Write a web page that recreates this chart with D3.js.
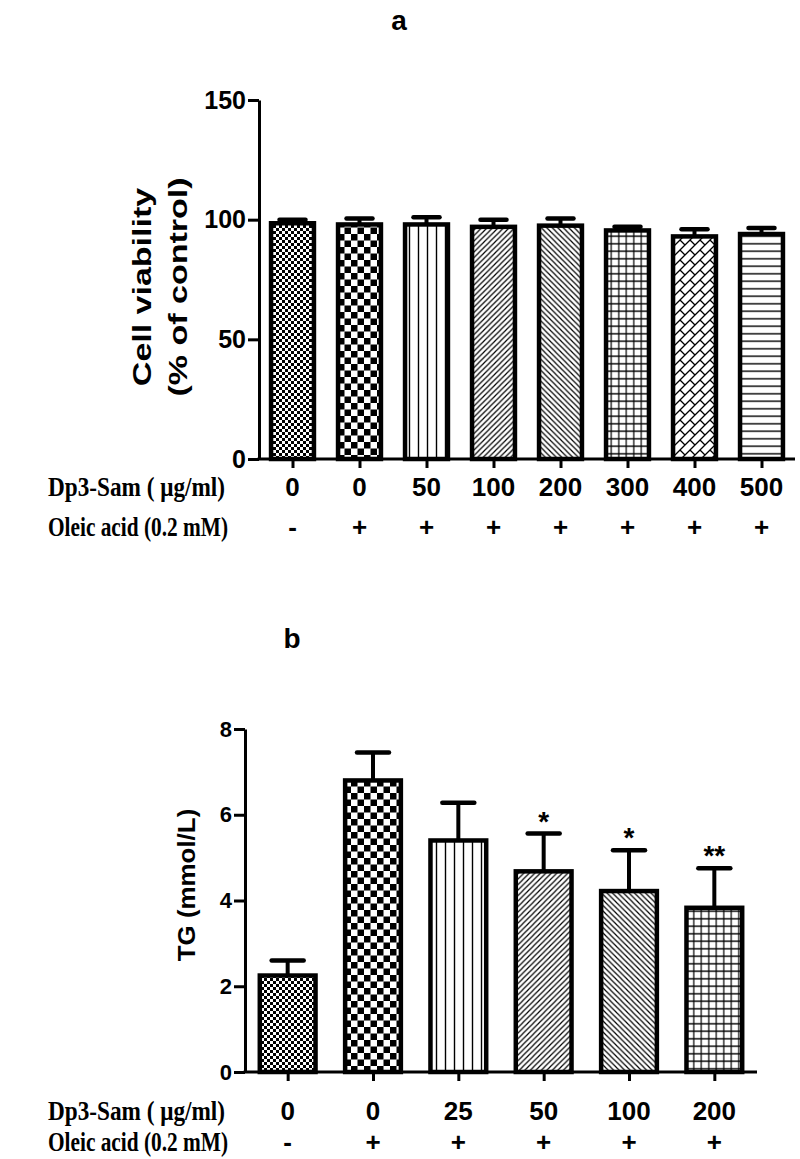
<!DOCTYPE html>
<html>
<head>
<meta charset="utf-8">
<script src="https://cdn.jsdelivr.net/npm/d3@7"></script>
<style>
  body { margin: 0; background: #fff; }
  svg { display: block; }
  .tick text { font-family: "Liberation Sans", Arial, sans-serif; font-weight: bold; }
</style>
</head>
<body>
<svg id="chart" width="800" height="1159"></svg>
<script>
// ---------- DATA ----------
const doseA = ["0", "0", "50", "100", "200", "300", "400", "500"];
const oleicA = ["-", "+", "+", "+", "+", "+", "+", "+"];
const viability = [98.5, 98, 98, 97, 97.5, 95.5, 93, 94];
const viabilityErr = [1.5, 2.5, 3, 3, 3, 1.5, 3, 2.5];
const ticksA = [0, 50, 100, 150];

const doseB = ["0", "0", "25", "50", "100", "200"];
const oleicB = ["-", "+", "+", "+", "+", "+"];
const tg = [2.25, 6.8, 5.4, 4.68, 4.22, 3.83];
const tgErr = [0.35, 0.65, 0.88, 0.88, 0.95, 0.92];
const sigB = ["", "", "", "*", "*", "**"];
const ticksB = [0, 2, 4, 6, 8];

const patternIds = ["pFineCheck", "pCheck", "pVert", "pDiagR", "pDiagL", "pGrid", "pBrick", "pHoriz"];

// ---------- SVG + PATTERNS ----------
const svg = d3.select("#chart");
const defs = svg.append("defs");

function pat(id, w, h) {
  const p = defs.append("pattern").attr("id", id).attr("patternUnits", "userSpaceOnUse")
    .attr("width", w).attr("height", h);
  p.append("rect").attr("width", w).attr("height", h).attr("fill", "#fff");
  return p;
}
let p = pat("pFineCheck", 6, 6);
p.append("rect").attr("width", 3).attr("height", 3).attr("fill", "#000");
p.append("rect").attr("x", 3).attr("y", 3).attr("width", 3).attr("height", 3).attr("fill", "#000");
p = pat("pCheck", 13, 13);
p.append("rect").attr("width", 6.5).attr("height", 6.5).attr("fill", "#000");
p.append("rect").attr("x", 6.5).attr("y", 6.5).attr("width", 6.5).attr("height", 6.5).attr("fill", "#000");
p = pat("pVert", 9, 10);
p.append("line").attr("x1", 4.5).attr("x2", 4.5).attr("y1", 0).attr("y2", 10).attr("stroke", "#000").attr("stroke-width", 1.4);
p = pat("pDiagR", 5.5, 5.5);
p.append("path").attr("d", "M0,5.5 L5.5,0 M-1,1 L1,-1 M4.5,6.5 L6.5,4.5").attr("stroke", "#000").attr("stroke-width", 1.2);
p = pat("pDiagL", 5.5, 5.5);
p.append("path").attr("d", "M0,0 L5.5,5.5 M-1,4.5 L1,6.5 M4.5,-1 L6.5,1").attr("stroke", "#000").attr("stroke-width", 1.2);
p = pat("pGrid", 7.5, 7.5);
p.append("path").attr("d", "M3.75,0 V7.5 M0,3.75 H7.5").attr("stroke", "#000").attr("stroke-width", 1.2);
p = pat("pBrick", 10, 10);
p.append("path").attr("d", "M-1,11 L11,-1 M0,0 L5,5 M-1,1 L1,-1 M9,11 L11,9").attr("stroke", "#000").attr("stroke-width", 1.3).attr("fill", "none");
p = pat("pHoriz", 10, 7.5);
p.append("line").attr("x1", 0).attr("x2", 10).attr("y1", 3.75).attr("y2", 3.75).attr("stroke", "#000").attr("stroke-width", 1.4);

const sans = "'Liberation Sans', Arial, sans-serif";
const serif = "'Liberation Serif', 'Times New Roman', serif";

// ---------- PANEL DRAWER ----------
function panel(cfg) {
  const x = d3.scaleBand().domain(d3.range(cfg.values.length)).range(cfg.xRange)
    .paddingInner(0.3).paddingOuter(0.15);
  const y = d3.scaleLinear().domain(cfg.yDomain).range(cfg.yRange);
  const cx = i => x(i) + x.bandwidth() / 2;
  const g = svg.append("g");

  g.selectAll("rect.bar").data(cfg.values).join("rect")
    .attr("class", "bar")
    .attr("x", (d, i) => x(i) + 2)
    .attr("width", x.bandwidth() - 4)
    .attr("y", d => y(d))
    .attr("height", d => y(0) - y(d))
    .attr("fill", (d, i) => `url(#${patternIds[i]})`)
    .attr("stroke", "#000").attr("stroke-width", 4.5);

  const eg = g.selectAll("g.err").data(cfg.values).join("g").attr("class", "err");
  eg.append("line")
    .attr("x1", (d, i) => cx(i)).attr("x2", (d, i) => cx(i))
    .attr("y1", d => y(d)).attr("y2", (d, i) => y(d + cfg.errors[i]))
    .attr("stroke", "#000").attr("stroke-width", 4);
  eg.append("line")
    .attr("x1", (d, i) => cx(i) - cfg.capW / 2)
    .attr("x2", (d, i) => cx(i) + cfg.capW / 2)
    .attr("y1", (d, i) => y(d + cfg.errors[i])).attr("y2", (d, i) => y(d + cfg.errors[i]))
    .attr("stroke", "#000").attr("stroke-width", 4.5).attr("stroke-linecap", "round");

  if (cfg.sig) {
    g.selectAll("text.sig").data(cfg.values).join("text").attr("class", "sig")
      .attr("x", (d, i) => cx(i))
      .attr("y", (d, i) => y(d + cfg.errors[i]) - 3)
      .attr("text-anchor", "middle")
      .style("font-family", sans).style("font-size", "28px").style("font-weight", "bold")
      .text((d, i) => cfg.sig[i]);
  }

  const ya = g.append("g").attr("transform", `translate(${cfg.xRange[0]},0)`)
    .call(d3.axisLeft(y).tickValues(cfg.ticks).tickSize(11).tickSizeOuter(0).tickPadding(2));
  ya.select(".domain").attr("stroke-width", 3);
  ya.selectAll(".tick line").attr("stroke-width", 3);
  ya.selectAll(".tick text").style("font-size", cfg.tickFont + "px").attr("fill", "#000");

  const xa = g.append("g").attr("transform", `translate(0,${y(0)})`)
    .call(d3.axisBottom(d3.scalePoint().domain(d3.range(cfg.values.length))
      .range([cx(0), cx(cfg.values.length - 1)]))
      .tickSize(9).tickSizeOuter(0).tickFormat(""));
  xa.select(".domain").remove();
  xa.selectAll(".tick line").attr("stroke-width", 3);
  g.append("line").attr("x1", cfg.xRange[0] - 1.5).attr("x2", cfg.xRange[1])
    .attr("y1", y(0)).attr("y2", y(0)).attr("stroke", "#000").attr("stroke-width", 3);

  // category rows
  g.selectAll("text.dose").data(cfg.dose).join("text").attr("class", "dose")
    .attr("x", (d, i) => cx(i)).attr("y", cfg.row1)
    .attr("text-anchor", "middle")
    .style("font-family", sans).style("font-weight", "bold").style("font-size", "26px")
    .text(d => d);
  g.selectAll("text.oleic").data(cfg.oleic).join("text").attr("class", "oleic")
    .attr("x", (d, i) => cx(i)).attr("y", cfg.row2)
    .attr("text-anchor", "middle")
    .style("font-family", sans).style("font-weight", "bold").style("font-size", "26px")
    .text(d => d);

  g.append("text").attr("x", cfg.labelLeft).attr("y", cfg.row1)
    .attr("textLength", 177).attr("lengthAdjust", "spacingAndGlyphs")
    .style("font-family", serif).style("font-weight", "bold").style("font-size", "27px")
    .text("Dp3-Sam ( \u03bcg/ml)");
  g.append("text").attr("x", cfg.labelLeft).attr("y", cfg.row2)
    .attr("textLength", 180).attr("lengthAdjust", "spacingAndGlyphs")
    .style("font-family", serif).style("font-weight", "bold").style("font-size", "27px")
    .text("Oleic acid (0.2 mM)");

  g.append("text").attr("x", cfg.letterX).attr("y", cfg.letterY)
    .attr("text-anchor", "middle")
    .style("font-family", sans).style("font-weight", "bold")
    .style("font-size", "28px").text(cfg.letter);

  cfg.yLabel.forEach((t, k) => {
    g.append("text")
      .attr("transform", `translate(${cfg.yLabelX[k]},${cfg.yLabelY}) rotate(-90) scale(${cfg.yLabelStretch},1)`)
      .attr("text-anchor", "middle")
      .style("font-family", sans).style("font-weight", "bold")
      .style("font-size", cfg.yLabelFont + "px").text(t);
  });
}

panel({
  values: viability, errors: viabilityErr, dose: doseA, oleic: oleicA,
  xRange: [259, 795], yDomain: [0, 150], yRange: [459, 100], ticks: ticksA,
  capW: 26, tickFont: 25, row1: 496, row2: 536, labelLeft: 48,
  letter: "a", letterX: 399, letterY: 30,
  yLabel: ["Cell viability", "(% of control)"], yLabelX: [151, 187], yLabelY: 287,
  yLabelFont: 25, yLabelStretch: 1.36
});

panel({
  values: tg, errors: tgErr, dose: doseB, oleic: oleicB, sig: sigB,
  xRange: [245, 757], yDomain: [0, 8], yRange: [1072, 729], ticks: ticksB,
  capW: 32, tickFont: 22, row1: 1120, row2: 1151, labelLeft: 48,
  letter: "b", letterX: 292, letterY: 648,
  yLabel: ["TG (mmol/L)"], yLabelX: [195], yLabelY: 885,
  yLabelFont: 24, yLabelStretch: 1.08
});
</script>
</body>
</html>
